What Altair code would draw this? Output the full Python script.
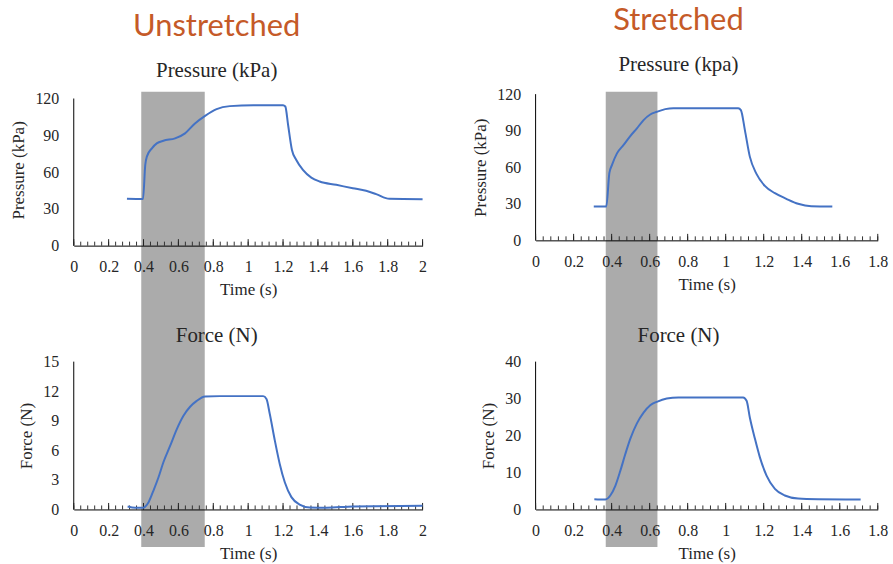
import altair as alt
import pandas as pd

# ---------------- data ----------------
# Unstretched, pressure (kPa)
up_t = [0.305, 0.397, 0.410, 0.419, 0.448, 0.476, 0.514, 0.581, 0.638, 0.695, 0.753,
        0.819, 0.895, 1.030, 1.200, 1.213, 1.229, 1.251, 1.276, 1.314, 1.362, 1.410,
        1.505, 1.600, 1.676, 1.734, 1.810, 2.000]
up_v = [38.2, 38.0, 65.8, 72.6, 79.4, 83.4, 85.6, 87.5, 91.6, 99.7, 105.9,
        111.4, 113.8, 114.6, 114.6, 113.5, 98.4, 78.0, 69.9, 61.8, 55.5, 52.3,
        49.6, 46.8, 44.7, 42.0, 38.2, 37.9]
# Unstretched, force (N)
uf_t = [0.309, 0.352, 0.396, 0.429, 0.457, 0.486, 0.514, 0.553, 0.591, 0.629, 0.667,
        0.705, 0.753, 0.838, 1.086, 1.105, 1.124, 1.153, 1.181, 1.210, 1.248, 1.295,
        1.353, 1.448, 1.600, 2.000]
uf_v = [0.30, 0.17, 0.17, 0.74, 1.92, 3.27, 4.79, 6.47, 8.16, 9.51, 10.42,
        11.02, 11.46, 11.50, 11.50, 11.20, 9.68, 6.98, 4.62, 2.76, 1.25, 0.50,
        0.20, 0.17, 0.30, 0.37]
# Stretched, pressure (kPa)
sp_t = [0.306, 0.372, 0.388, 0.402, 0.428, 0.463, 0.498, 0.533, 0.568, 0.603, 0.638,
        0.682, 0.725, 1.066, 1.080, 1.101, 1.127, 1.162, 1.206, 1.259, 1.319, 1.381,
        1.450, 1.561]
sp_v = [27.8, 27.8, 55.1, 61.9, 71.4, 78.3, 85.6, 91.9, 98.7, 103.3, 105.5,
        107.7, 108.5, 108.5, 106.9, 90.5, 68.7, 54.5, 44.7, 38.7, 34.1, 30.0,
        28.0, 27.8]
# Stretched, force (N)
sf_t = [0.309, 0.367, 0.393, 0.420, 0.446, 0.472, 0.498, 0.533, 0.568, 0.603, 0.641,
        0.690, 0.751, 1.092, 1.110, 1.127, 1.154, 1.180, 1.215, 1.259, 1.311, 1.381,
        1.486, 1.710]
sf_v = [2.79, 2.70, 3.78, 6.47, 10.5, 15.0, 19.1, 23.3, 26.2, 28.2, 29.2,
        30.0, 30.3, 30.3, 29.4, 24.9, 19.1, 14.1, 9.17, 5.57, 3.78, 2.97,
        2.79, 2.70]

# shaded time windows
un_shade = [0.387, 0.751]
st_shade = [0.369, 0.641]

# axis ticks
un_xmax = 2.0
st_xmax = 1.8
p_ticks = [0, 30, 60, 90, 120]
uf_ticks = [0, 3, 6, 9, 12, 15]
sf_ticks = [0, 10, 20, 30, 40]

BLUE = "#4472C4"
GRAY = "#ABABAB"
TXT = "#262626"
ORANGE = "#C55A28"
SERIF = "Liberation Serif"


def panel(t, v, xmax, yticks, ydom_max, ytitle, w, h, title, shade=None, shade_y=(0, 0)):
    xs = alt.Scale(domain=[0, xmax], nice=False, zero=False)
    ys = alt.Scale(domain=[0, ydom_max], nice=False, zero=True)
    xlabels = [round(0.2 * i, 1) for i in range(int(round(xmax / 0.2)) + 1)]
    minor = [round(0.04 * i, 2) for i in range(int(round(xmax / 0.04)) + 1)]

    xaxis = alt.Axis(values=xlabels, format="~g", ticks=False, tickSize=0,
                     grid=False, domainColor="black", domainWidth=1,
                     labelFont=SERIF, labelFontSize=16, labelColor=TXT,
                     labelPadding=13, labelFlush=False,
                     titleFont=SERIF, titleFontSize=17, titleFontWeight="normal",
                     titleColor=TXT, titlePadding=7, zindex=1)
    yaxis = alt.Axis(values=yticks, format="d", ticks=False, tickSize=0,
                     grid=False, domain=False,
                     labelFont=SERIF, labelFontSize=16, labelColor=TXT,
                     labelPadding=15,
                     titleFont=SERIF, titleFontSize=17, titleFontWeight="normal",
                     titleColor=TXT, titlePadding=7)

    def X(f):
        return alt.X(f, scale=xs, axis=xaxis, title="Time (s)")

    def Y(f):
        return alt.Y(f, scale=ys, axis=yaxis, title=ytitle)

    layers = []
    if shade is not None:
        sdf = pd.DataFrame({"a": [shade[0]], "b": [shade[1]]})
        layers.append(
            alt.Chart(sdf).mark_rect(color=GRAY).encode(
                x=X("a:Q"), x2="b:Q",
                y=alt.value(shade_y[0]), y2=alt.value(shade_y[1]),
            )
        )
    # y axis line from 0 to the top tick
    ydf = pd.DataFrame({"x": [0.0], "y0": [0], "y1": [yticks[-1]]})
    layers.append(
        alt.Chart(ydf).mark_rule(color="black", strokeWidth=1).encode(
            x=X("x:Q"), y=Y("y0:Q"), y2="y1:Q",
        )
    )
    mdf = pd.DataFrame({"p": minor})
    layers.append(
        alt.Chart(mdf).mark_rule(color="#333333", strokeWidth=1).encode(
            x=X("p:Q"), y=alt.value(h - 4), y2=alt.value(h),
        )
    )
    Mdf = pd.DataFrame({"p": xlabels})
    layers.append(
        alt.Chart(Mdf).mark_rule(color="#222222", strokeWidth=1).encode(
            x=X("p:Q"), y=alt.value(h - 6.5), y2=alt.value(h),
        )
    )
    df = pd.DataFrame({"t": t, "v": v})
    layers.append(
        alt.Chart(df).mark_line(color=BLUE, strokeWidth=2, interpolate="monotone").encode(
            x=X("t:Q"), y=Y("v:Q"),
        )
    )
    return alt.layer(*layers).properties(width=w, height=h, title=title)


def top_title(main, sub, dx, sub_pad, offset):
    return alt.TitleParams(
        main, subtitle=sub, font="Lato", fontSize=31, fontWeight="normal", color=ORANGE,
        subtitleFont=SERIF, subtitleFontSize=21, subtitleColor=TXT,
        subtitlePadding=sub_pad, anchor="middle", frame="group", dx=dx, offset=offset,
    )


def bot_title(main, dx, offset):
    return alt.TitleParams(
        main, font=SERIF, fontSize=21, fontWeight="normal", color=TXT,
        anchor="middle", frame="group", dx=dx, offset=offset,
    )


uL_top = panel(up_t, up_v, un_xmax, p_ticks, 120 * 152 / 147.6, "Pressure (kPa)",
               350, 152, top_title("Unstretched", "Pressure (kPa)", -31.6, 17, 9),
               shade=un_shade, shade_y=(-2.3, 454.4))
sR_top = panel(sp_t, sp_v, st_xmax, p_ticks, 120, "Pressure (kPa)",
               343.3, 146.7, top_title("Stretched", "Pressure (kpa)", -28.3, 17, 10),
               shade=st_shade, shade_y=(-2.3, 454.4))
uL_bot = panel(uf_t, uf_v, un_xmax, uf_ticks, 15, "Force (N)",
               350, 148.3, bot_title("Force (N)", -31.6, 8))
sR_bot = panel(sf_t, sf_v, st_xmax, sf_ticks, 40, "Force (N)",
               343.3, 148.3, bot_title("Force (N)", -28.3, 8))

chart = alt.concat(
    uL_top, sR_top, uL_bot, sR_bot,
    columns=2, spacing={"row": 116.4, "column": 113.4}, bounds="flush",
).properties(
    padding={"left": 10, "top": 4.5, "right": 5, "bottom": 5},
    background="white",
).configure_view(stroke=None)

chart.save("out.html", embed_options={"renderer": "svg", "actions": False})
